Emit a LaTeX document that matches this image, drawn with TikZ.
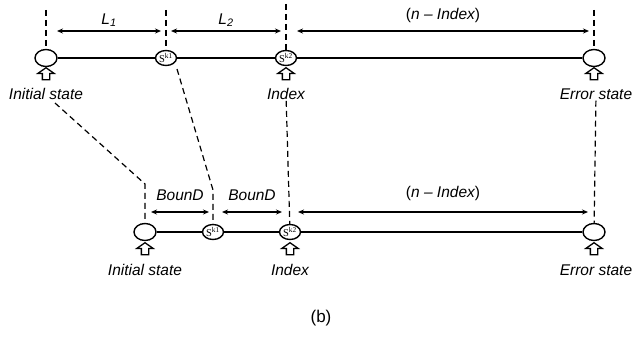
\documentclass[tikz,border=0pt]{standalone}
\usepackage{fontspec}
\setmainfont{Liberation Sans}
\newfontfamily\serifface{Liberation Serif}
\usetikzlibrary{shapes.geometric,shapes.arrows,arrows.meta}

\begin{document}
\begin{tikzpicture}[x=1pt,y=-1pt,
  lbl/.style={font=\fontsize{15.5}{15.5}\selectfont\itshape,inner sep=1pt},
  state/.style={ellipse,draw,line width=1.4pt,fill=white,minimum width=22pt,minimum height=17pt,inner sep=0pt},
  skstate/.style={state,minimum width=21pt,minimum height=15pt,font=\serifface\fontsize{10.5}{10.5}\selectfont},
  uparrow/.style={single arrow,draw,line width=1.3pt,fill=white,shape border rotate=90,minimum height=12pt,
    single arrow head extend=4.5pt,single arrow tip angle=110,inner sep=3pt},
  dim/.style={{Stealth[length=6pt,width=5pt]}-{Stealth[length=6pt,width=5pt]},line width=1.1pt},
  guide/.style={line width=1.2pt,dash pattern=on 6pt off 4pt},
  chain/.style={line width=1.8pt}]
  \useasboundingbox (0,0) rectangle (642,337);

  % upper sequence
  \node[state] (ini1) at (46,58) {};
  \node[skstate] (ka1) at (166,58) {S\textsuperscript{k1}};
  \node[skstate] (kb1) at (286,58) {S\textsuperscript{k2}};
  \node[state] (err1) at (594,58) {};
  \draw[chain] (ini1) -- (ka1) -- (kb1) -- (err1);

  \node[uparrow] (u1) at (46,75) {};
  \node[uparrow] (u2) at (286,75) {};
  \node[uparrow] (u3) at (594,75) {};
  \node[lbl] (li1) at (46,94) {Initial state};
  \node[lbl] (lx1) at (286,94) {Index};
  \node[lbl] (le1) at (596,94) {Error state};

  \coordinate (v1) at (46,10);
  \coordinate (v2) at (166,10);
  \coordinate (v3) at (286,4);
  \coordinate (v4) at (594,10);
  \draw[guide] (v1) -- (ini1);
  \draw[guide] (v2) -- (ka1);
  \draw[guide] (v3) -- (kb1);
  \draw[guide] (v4) -- (err1);

  \coordinate (a0) at (57,31);
  \coordinate (a1) at (161,31);
  \coordinate (a2) at (171,31);
  \coordinate (a3) at (281,31);
  \coordinate (a4) at (297,31);
  \coordinate (a5) at (589,31);
  \draw[dim] (a0) -- node[lbl,yshift=11pt] {L\textsubscript{1}} (a1);
  \draw[dim] (a2) -- node[lbl,yshift=11pt] {L\textsubscript{2}} (a3);
  \draw[dim] (a4) -- node[lbl,yshift=16pt] {{\upshape(}n – Index{\upshape)}} (a5);

  % lower sequence
  \node[state] (ini2) at (145,232) {};
  \node[skstate] (ka2) at (213,232) {S\textsuperscript{k1}};
  \node[skstate] (kb2) at (290,232) {S\textsuperscript{k2}};
  \node[state] (err2) at (594,232) {};
  \draw[chain] (ini2) -- (ka2) -- (kb2) -- (err2);

  \node[uparrow] (u4) at (145,250) {};
  \node[uparrow] (u5) at (290,250) {};
  \node[uparrow] (u6) at (594,250) {};
  \node[lbl] (li2) at (145,270) {Initial state};
  \node[lbl] (lx2) at (290,270) {Index};
  \node[lbl] (le2) at (596,270) {Error state};

  \coordinate (b0) at (55,103);
  \coordinate (b1) at (145,184);
  \coordinate (c0) at (177,69);
  \coordinate (c1) at (213,190);
  \draw[guide] (b0) -- (b1) -- (ini2);
  \draw[guide] (c0) -- (c1) -- (ka2);
  \draw[guide] (lx1) -- (kb2);
  \draw[guide] (le1) -- (err2);

  \coordinate (d0) at (151,212);
  \coordinate (d1) at (209,212);
  \coordinate (d2) at (222,212);
  \coordinate (d3) at (282,212);
  \coordinate (d4) at (298,212);
  \coordinate (d5) at (588,212);
  \draw[dim] (d0) -- node[lbl,yshift=17pt] {BounD} (d1);
  \draw[dim] (d2) -- node[lbl,yshift=17pt] {BounD} (d3);
  \draw[dim] (d4) -- node[lbl,yshift=19pt] {{\upshape(}n – Index{\upshape)}} (d5);

  \node[font=\fontsize{17}{17}\selectfont] (cap) at (321,318) {(b)};
\end{tikzpicture}
\end{document}
